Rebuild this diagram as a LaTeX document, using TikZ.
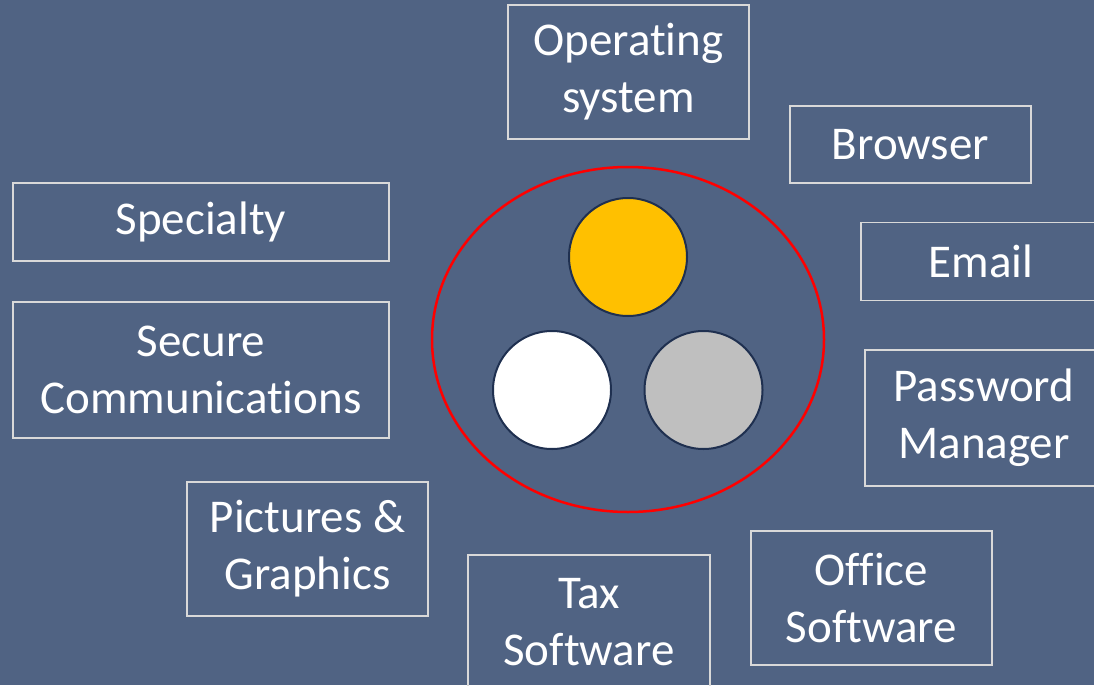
\documentclass[tikz,border=0pt]{standalone}
\usepackage{fontspec}
\setmainfont[Ligatures=NoCommon]{Carlito}
\usetikzlibrary{shapes.geometric}
\definecolor{bg}{RGB}{80,99,131}
\definecolor{boxline}{RGB}{217,217,217}
\definecolor{navy}{RGB}{31,48,80}
\definecolor{gold}{RGB}{255,192,0}
\definecolor{silver}{RGB}{191,191,191}
\begin{document}
\begin{tikzpicture}[x=1pt,y=-1pt,
  itembox/.style={draw=boxline, line width=1.5pt, text=white, align=center,
    inner sep=0pt, font=\fontsize{47}{57}\selectfont},
  wide/.style={minimum width=241pt, minimum height=134pt},
  flat/.style={minimum width=241pt, minimum height=77pt},
  ball/.style={circle, draw=navy, line width=2pt, minimum size=118pt, inner sep=0pt}]
\fill[bg] (0,0) rectangle (1094,685);
\useasboundingbox (0,0) rectangle (1094,685);
\node[itembox, wide] (os) at (628.5,72) {Operating\\system};
\node[itembox, flat] (browser) at (910.5,144.5) {Browser};
\node[itembox, minimum width=376pt, minimum height=78pt] (specialty) at (201,222) {Specialty};
\node[itembox, minimum width=376pt, minimum height=136pt] (secure) at (201,370) {Secure\\Communications};
\node[itembox, minimum width=240pt, minimum height=78pt] (email) at (981,261.5) {Email};
\node[itembox, minimum width=238pt, minimum height=136pt] (password) at (984,418) {Password\\Manager};
\node[itembox, wide] (pictures) at (307.5,549) {Pictures \&\\Graphics};
\node[itembox, minimum width=242pt, minimum height=134pt] (tax) at (589,622) {Tax\\Software};
\node[itembox, wide] (office) at (871.5,598) {Office\\Software};
\node[draw=red, line width=2.5pt, ellipse, minimum width=392pt, minimum height=345pt, inner sep=0pt] (ring) at (628,339.5) {};
\node[ball, fill=gold] (c1) at (628,257) {};
\node[ball, fill=white] (c2) at (552,390) {};
\node[ball, fill=silver] (c3) at (703.5,390) {};
\end{tikzpicture}
\end{document}
